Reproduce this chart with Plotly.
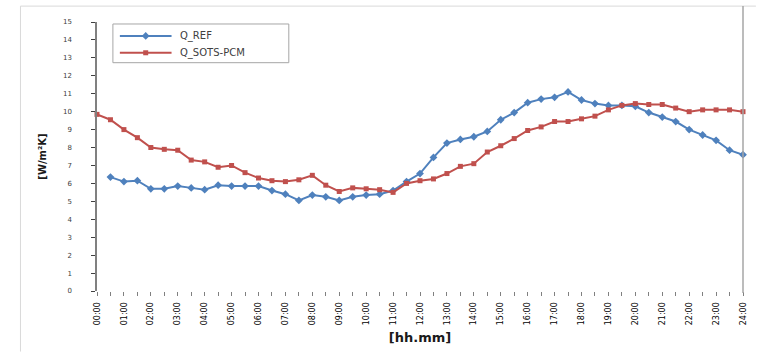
import plotly.graph_objects as go

# Half-hourly heat-transfer coefficients over one day [W/m²K]
hours = [i * 0.5 for i in range(49)]
hour_labels = [f"{h:02d}:00" for h in range(25)]

q_ref = [None, 6.35, 6.1, 6.15, 5.7, 5.7, 5.85, 5.75, 5.65, 5.9,
         5.85, 5.85, 5.85, 5.6, 5.4, 5.05, 5.35, 5.25, 5.05, 5.25,
         5.35, 5.4, 5.6, 6.1, 6.55, 7.45, 8.25, 8.45, 8.6, 8.9,
         9.55, 9.95, 10.5, 10.7, 10.8, 11.1, 10.65, 10.45, 10.35, 10.35,
         10.3, 9.95, 9.7, 9.45, 9.0, 8.7, 8.4, 7.85, 7.6]

q_pcm = [9.85, 9.55, 9.0, 8.55, 8.0, 7.9, 7.85, 7.3, 7.2, 6.9,
         7.0, 6.6, 6.3, 6.15, 6.1, 6.2, 6.45, 5.9, 5.55, 5.75,
         5.7, 5.65, 5.5, 6.0, 6.15, 6.25, 6.55, 6.95, 7.1, 7.75,
         8.1, 8.5, 8.95, 9.15, 9.45, 9.45, 9.6, 9.75, 10.1, 10.35,
         10.45, 10.4, 10.4, 10.2, 10.0, 10.1, 10.1, 10.1, 10.0]

series_names = ["Q_REF", "Q_SOTS-PCM"]
y_ticks = list(range(16))

BLUE = "#4F81BD"
RED = "#C0504D"
FONT = "DejaVu Sans"

W, H = 760, 354
L, R, T, B = 97, 13, 22, 61

fig = go.Figure()

fig.add_trace(go.Scatter(
    x=hours, y=q_ref, mode="lines+markers", name=series_names[0],
    line=dict(color=BLUE, width=2),
    marker=dict(symbol="diamond", size=6, color=BLUE),
    cliponaxis=False, showlegend=False))
fig.add_trace(go.Scatter(
    x=hours, y=q_pcm, mode="lines+markers", name=series_names[1],
    line=dict(color=RED, width=2),
    marker=dict(symbol="square", size=5, color=RED),
    cliponaxis=False, showlegend=False))

# Legend drawn on a pixel-scaled overlay axis
legend_rows = [(36, BLUE, "diamond", 6), (53, RED, "square", 5)]
for (ly, col, sym, sz), name in zip(legend_rows, series_names):
    fig.add_trace(go.Scatter(
        x=[120, 146, 172], y=[ly, ly, ly], mode="lines",
        line=dict(color=col, width=2), xaxis="x2", yaxis="y2",
        showlegend=False, hoverinfo="skip"))
    fig.add_trace(go.Scatter(
        x=[146], y=[ly], mode="markers",
        marker=dict(symbol=sym, size=sz, color=col), xaxis="x2", yaxis="y2",
        showlegend=False, hoverinfo="skip"))
    fig.add_annotation(x=178, y=ly, xref="x2", yref="y2", text=name,
                       showarrow=False, xanchor="left", yanchor="middle",
                       font=dict(family=FONT, size=10, color="#404040"))

fig.add_shape(type="rect", xref="x2", yref="y2", x0=113, x1=290, y0=24, y1=63,
              line=dict(color="#a6a6a6", width=1), fillcolor="rgba(0,0,0,0)")


def px(xp):
    return (xp - L) / (W - L - R)


def py(yp):
    return (H - B - yp) / (H - T - B)


# Outer chart frame and right-hand border line
fig.add_shape(type="line", xref="paper", yref="paper",
              x0=px(20), x1=px(760), y0=py(6), y1=py(6),
              line=dict(color="#d9d9d9", width=1))
fig.add_shape(type="line", xref="paper", yref="paper",
              x0=px(20), x1=px(20), y0=py(6), y1=py(354),
              line=dict(color="#d9d9d9", width=1))
fig.add_shape(type="line", xref="paper", yref="paper",
              x0=1, x1=1, y0=py(295), y1=py(6),
              line=dict(color="#a6a6a6", width=1.5))

fig.update_layout(
    width=W, height=H,
    margin=dict(l=L, r=R, t=T, b=B, pad=0),
    paper_bgcolor="white", plot_bgcolor="white",
    showlegend=False,
    xaxis=dict(
        range=[0, 24], tickmode="array",
        tickvals=hours,
        ticktext=[hour_labels[i // 2] if i % 2 == 0 else "" for i in range(49)],
        tickangle=-90, ticks="outside", ticklen=4, tickcolor="#808080",
        ticklabelstandoff=3,
        tickfont=dict(family=FONT, size=8, color="#000000"),
        showgrid=False, zeroline=False, showline=False,
        title=dict(text="<b>[hh.mm]</b>", standoff=8,
                   font=dict(family=FONT, size=13, color="#1a1a1a")),
    ),
    yaxis=dict(
        range=[0, 15], tickmode="array", tickvals=y_ticks,
        ticks="outside", ticklen=4, tickcolor="#404040",
        ticklabelstandoff=18,
        tickfont=dict(family=FONT, size=7, color="#404040"),
        showgrid=False, zeroline=False,
        showline=True, linecolor="#808080", linewidth=1.5,
        title=dict(text="<b>[W/m²K]</b>", standoff=14,
                   font=dict(family=FONT, size=10, color="#1a1a1a")),
    ),
    xaxis2=dict(overlaying="x", range=[L, W - R], visible=False),
    yaxis2=dict(overlaying="y", range=[H - B, T], visible=False),
)

fig.write_html("out.html")
